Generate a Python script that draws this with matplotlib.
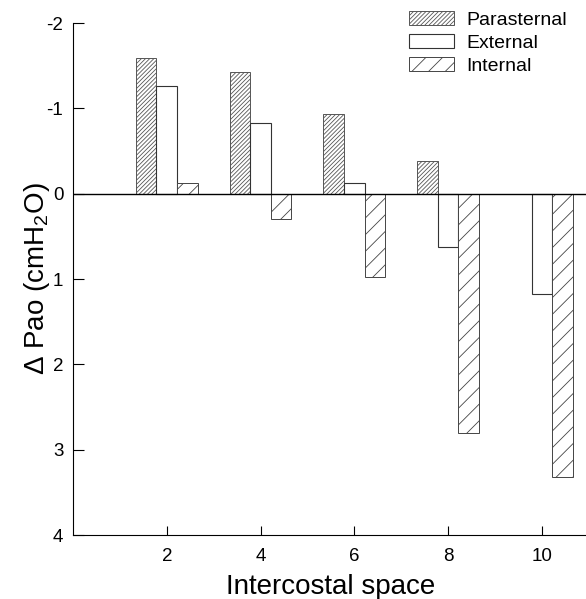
import matplotlib.pyplot as plt
import numpy as np

plt.rcParams['font.family'] = ['Liberation Sans', 'DejaVu Sans']
plt.rcParams['mathtext.fontset'] = 'custom'
plt.rcParams['mathtext.rm'] = 'Liberation Sans'
plt.rcParams['mathtext.it'] = 'Liberation Sans:italic'
plt.rcParams['axes.unicode_minus'] = False
plt.rcParams['hatch.linewidth'] = 0.6

SPACES = [2, 4, 6, 8, 10]
PARASTERNAL = [-1.59, -1.43, -0.93, -0.38, 0.0]
EXTERNAL = [-1.26, -0.83, -0.12, 0.63, 1.17]
INTERNAL = [-0.12, 0.30, 0.98, 2.81, 3.32]

fig = plt.figure(figsize=(5.86, 5.99), dpi=100)
ax = fig.add_axes([0.1246, 0.1068, 0.880, 0.8548])

x = np.array(SPACES, dtype=float)
w = 0.44
ax.bar(x - w, PARASTERNAL, w, color='white', edgecolor='#555555', hatch='////////',
       linewidth=0.7, label='Parasternal')
ax.bar(x, EXTERNAL, w, color='white', edgecolor='#333333', linewidth=0.8, label='External')
ax.bar(x + w, INTERNAL, w, color='white', edgecolor='#444444', hatch='//',
       linewidth=0.7, label='Internal')
ax.axhline(0, color='black', linewidth=1.0)

ax.set_xlim(0, 11)
ax.set_ylim(4, -2)
ax.set_xticks(SPACES)
ax.set_yticks([-2, -1, 0, 1, 2, 3, 4])
ax.tick_params(axis='both', direction='in', labelsize=13.5, width=0.8)
ax.tick_params(axis='y', length=8, pad=7)
ax.tick_params(axis='x', length=6.5, pad=9)
ax.spines['top'].set_visible(False)
ax.spines['right'].set_visible(False)

ax.set_xlabel('Intercostal space', fontsize=20, labelpad=7)
ax.set_ylabel(r'$\Delta$ Pao (cmH$_2$O)', fontsize=20, labelpad=-4)

ax.legend(loc='upper right', bbox_to_anchor=(0.968, 0.982), bbox_transform=fig.transFigure,
          frameon=False, fontsize=14, handlelength=2.3, handleheight=0.77,
          labelspacing=0.25, handletextpad=0.67, borderpad=0, borderaxespad=0)

fig.savefig('out.png', dpi=100)
